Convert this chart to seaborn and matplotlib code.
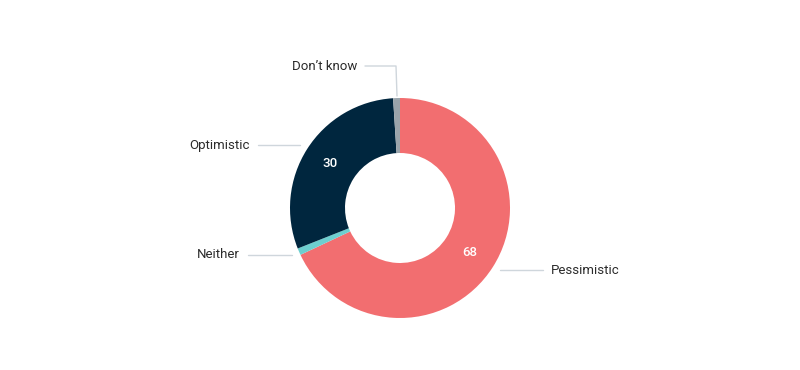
import matplotlib
matplotlib.use("Agg")
import matplotlib.pyplot as plt
import seaborn as sns
import numpy as np

categories = ["Pessimistic", "Neither", "Optimistic", "Don\u2019t know"]
values = [68, 1, 30, 1]
colors = ["#f26e70", "#6dcfcf", "#00263e", "#9aa4ab"]

sns.set_theme(style="white")
plt.rcParams["font.family"] = ["Roboto", "DejaVu Sans"]

fig = plt.figure(figsize=(8, 3.7), dpi=100)
ax = fig.add_axes([0, 0, 1, 1])

cx, cy, r = 400, 162, 110
wedges, _ = ax.pie(values, colors=colors, startangle=90, counterclock=False,
                   center=(cx, cy), radius=r, frame=True,
                   wedgeprops=dict(width=r * 0.5, linewidth=0))
ax.set_xlim(0, 800)
ax.set_ylim(0, 370)
ax.set_aspect("equal")
ax.axis("off")

# value labels inside the ring
for w, v in zip(wedges, values):
    if v < 5:
        continue
    ang = np.deg2rad((w.theta1 + w.theta2) / 2)
    ax.text(cx + 0.75 * r * np.cos(ang), cy + 0.75 * r * np.sin(ang), str(v),
            color="white", ha="center", va="center", fontsize=9.5, fontweight="medium")

# outside labels with leader lines (pixel layout)
line_c = "#cfd6dc"
txt_c = "#2b2b2b"
fs = 9.5
ax.plot([500, 543], [100, 100], color=line_c, lw=1)
ax.text(551, 100, categories[0], ha="left", va="center", fontsize=fs, color=txt_c)
ax.plot([248, 292], [115, 115], color=line_c, lw=1)
ax.text(240, 115, categories[1], ha="right", va="center", fontsize=fs, color=txt_c)
ax.plot([258, 300], [225, 225], color=line_c, lw=1)
ax.text(250, 225, categories[2], ha="right", va="center", fontsize=fs, color=txt_c)
ax.plot([365, 396, 397], [304, 304, 274], color=line_c, lw=1)
ax.text(357, 304, categories[3], ha="right", va="center", fontsize=fs, color=txt_c)

fig.savefig("out.png", dpi=100, facecolor="white")
